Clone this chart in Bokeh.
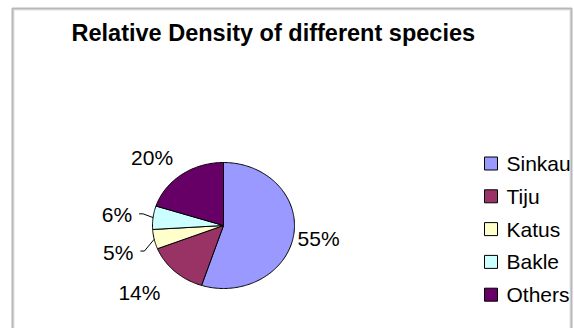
import numpy as np
from bokeh.plotting import figure
from bokeh.models import Range1d, BoxAnnotation
from bokeh.core.properties import value
from bokeh.embed import file_html
from bokeh.resources import INLINE

# ---------------- data ----------------
title = "Relative Density of different species"
species = ["Sinkau", "Tiju", "Katus", "Bakle", "Others"]
percent = [55, 14, 5, 6, 20]
colors = ["#9999FF", "#993366", "#FFFFCC", "#CCFFFF", "#660066"]

# ---------------- layout / style ----------------
W, H = 574, 328
CX, CY, RX, RY = 223, 225, 71, 63          # pie centre and radii (px)
LBL_RX, LBL_RY = RX + 8, RY + 22            # label anchor ellipse
label_dx = [-4, -9, -13, -13, -4]           # per-label nudges (Excel best-fit)
label_dy = [0, 5, 8, 0, 1]
leader = [False, False, True, True, False]
FONT = "Liberation Sans"
LEG_X, LEG_TX, LEG_Y0, LEG_DY = 490.5, 506, 163, 32.8

p = figure(width=W, height=H, x_range=Range1d(0, W), y_range=Range1d(H, 0),
           x_axis_type=None, y_axis_type=None, toolbar_location=None,
           output_backend="svg", min_border=0, outline_line_color=None)
p.grid.visible = False

# chart border (bottom edge is outside the window)
p.add_layout(BoxAnnotation(left=12, right=571, top=8, bottom=H + 10,
                           fill_alpha=0, line_color="#111111", line_width=2))
p.add_layout(BoxAnnotation(left=13.5, right=569.5, top=9.5, bottom=H + 10,
                           fill_alpha=0, line_color="#9a9a9a", line_width=1))

# title
p.text(x=[71], y=[32], text=[title], text_font=value(FONT),
       text_font_size="23.5px", text_font_style="bold", text_color="black",
       text_baseline="alphabetic", text_align="left")

# pie slices (clockwise from 12 o'clock)
frac = np.array(percent, dtype=float) / sum(percent)
ends = np.cumsum(frac)
starts = ends - frac
xs, ys = [], []
for s, e in zip(starts, ends):
    t = np.linspace(s, e, max(int((e - s) * 360), 2) + 1) * 2 * np.pi
    xs.append([CX] + list(CX + RX * np.sin(t)))
    ys.append([CY] + list(CY - RY * np.cos(t)))
p.patches(xs, ys, fill_color=colors, line_color="black", line_width=1)

# percentage labels
mid = (starts + ends) / 2 * 2 * np.pi
lx = CX + LBL_RX * np.sin(mid) + np.array(label_dx)
ly = CY - LBL_RY * np.cos(mid) + np.array(label_dy)
align = ["left" if np.sin(m) > 0 else "right" for m in mid]
p.text(x=lx, y=ly, text=[f"{v}%" for v in percent], text_font=value(FONT),
       text_font_size="21px", text_color="black", text_baseline="middle",
       text_align=align)

# leader lines for crowded labels
lxs, lys = [], []
for i, m in enumerate(mid):
    if leader[i]:
        ex, ey = CX + RX * np.sin(m), CY - RY * np.cos(m)
        sx = lx[i] + 7
        lxs.append([sx, sx + 4, ex])
        lys.append([ly[i] - 1, ly[i] - 1, ey])
p.multi_line(lxs, lys, line_color="black", line_width=1)

# legend
n = len(species)
gy = LEG_Y0 + LEG_DY * np.arange(n)
p.scatter(x=[LEG_X] * n, y=gy, marker="square", size=13,
          fill_color=colors, line_color="black", line_width=1)
p.text(x=[LEG_TX] * n, y=gy, text=species, text_font=value(FONT),
       text_font_size="21px", text_color="black", text_baseline="middle",
       text_align="left")

open("out.html", "w").write(file_html(p, INLINE))
